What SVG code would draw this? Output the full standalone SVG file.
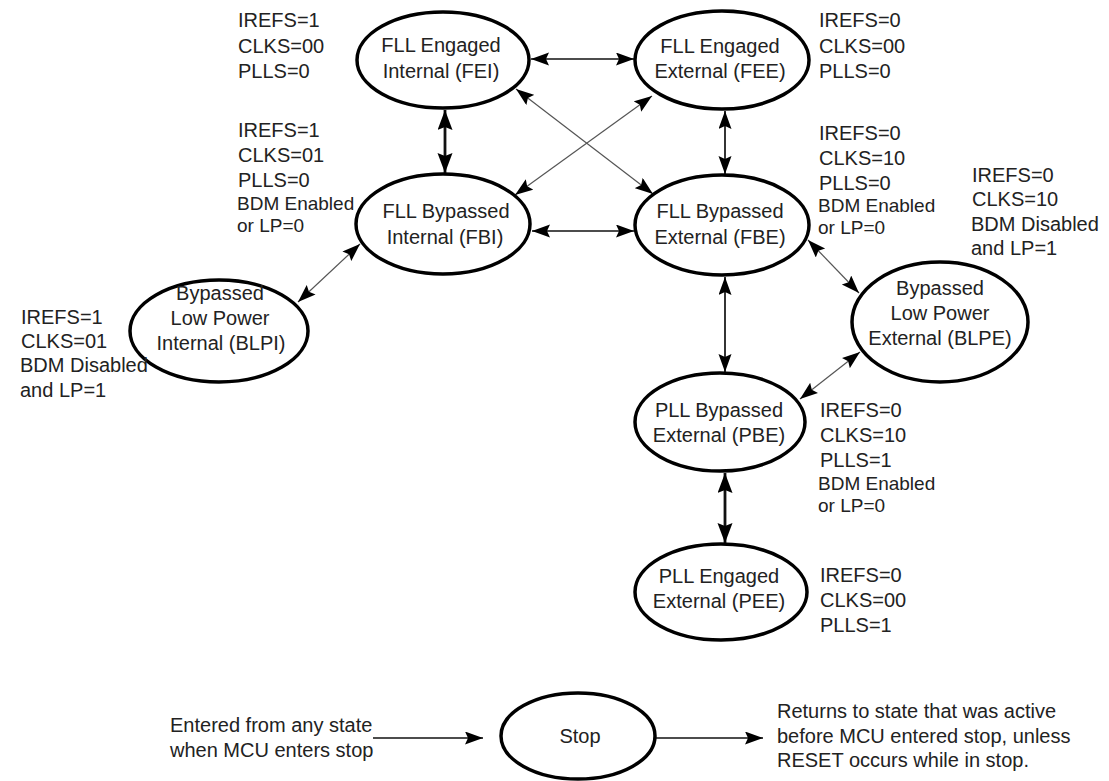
<svg xmlns="http://www.w3.org/2000/svg" width="1109" height="781" viewBox="0 0 1109 781">
  <style>
    text { font-family: "Liberation Sans", Arial, sans-serif; font-size: 20px; fill: #222; }
    .label { text-anchor: middle; }
    .tight { font-size: 19px; }
    .state { fill: #fff; stroke: #000; stroke-width: 3.5; }
    .link { fill: none; stroke: #111; stroke-width: 1.7; marker-start: url(#head); marker-end: url(#head); }
    .bold { stroke-width: 2.8; marker-start: url(#headL); marker-end: url(#headL); }
    .thin { stroke: #555; stroke-width: 1.2; }
    .one { fill: none; stroke: #111; stroke-width: 1.7; marker-end: url(#head); }
  </style>
  <defs>
    <marker id="head" markerUnits="userSpaceOnUse" markerWidth="20" markerHeight="14" refX="18" refY="6.5" orient="auto-start-reverse" viewBox="0 0 20 14">
      <path d="M0,0 L18,6.5 L0,13 L3,6.5 z" fill="#000"/>
    </marker>
    <marker id="headL" markerUnits="userSpaceOnUse" markerWidth="22" markerHeight="16" refX="20" refY="7.5" orient="auto-start-reverse" viewBox="0 0 22 16">
      <path d="M0,0 L20,7.5 L0,15 L3,7.5 z" fill="#000"/>
    </marker>
  </defs>
  <rect width="1109" height="781" fill="#fff"/>

  <!-- transitions between clock modes -->
  <g id="connectors">
    <line class="link" x1="531" y1="59" x2="634" y2="59"/>
    <line class="link bold" x1="445" y1="110" x2="445" y2="173"/>
    <line class="link" x1="725" y1="111" x2="725" y2="174"/>
    <line class="link thin" x1="516" y1="89" x2="653" y2="194"/>
    <line class="link thin" x1="652" y1="96" x2="515" y2="195"/>
    <line class="link" x1="532" y1="231" x2="634" y2="231"/>
    <line class="link thin" x1="298" y1="302" x2="360" y2="244"/>
    <line class="link thin" x1="808" y1="240" x2="859" y2="293"/>
    <line class="link" x1="725" y1="277" x2="725" y2="372"/>
    <line class="link thin" x1="860" y1="352" x2="800" y2="399"/>
    <line class="link bold" x1="725" y1="473" x2="725" y2="543"/>
    <line class="one" x1="373" y1="738" x2="483" y2="738"/>
    <line class="one" x1="656" y1="738" x2="763" y2="738"/>
  </g>

  <g id="fei">
    <ellipse class="state" cx="443" cy="60" rx="86" ry="48"/>
    <text class="label" x="441" y="52">FLL Engaged</text>
    <text class="label" x="441" y="78">Internal (FEI)</text>
    <text x="238" y="27">IREFS=1</text>
    <text x="238" y="53">CLKS=00</text>
    <text x="238" y="78">PLLS=0</text>
  </g>

  <g id="fee">
    <ellipse class="state" cx="722" cy="60" rx="87" ry="49"/>
    <text class="label" x="720" y="53">FLL Engaged</text>
    <text class="label" x="720" y="78">External (FEE)</text>
    <text x="819" y="27">IREFS=0</text>
    <text x="819" y="53">CLKS=00</text>
    <text x="819" y="78">PLLS=0</text>
  </g>

  <g id="fbi">
    <ellipse class="state" cx="443" cy="224" rx="87" ry="50"/>
    <text class="label" x="446" y="218">FLL Bypassed</text>
    <text class="label" x="445" y="244">Internal (FBI)</text>
    <text x="238" y="137">IREFS=1</text>
    <text x="238" y="162">CLKS=01</text>
    <text x="238" y="187">PLLS=0</text>
    <text class="tight" x="237" y="210">BDM Enabled</text>
    <text class="tight" x="237" y="231.5">or LP=0</text>
  </g>

  <g id="fbe">
    <ellipse class="state" cx="722" cy="225" rx="87" ry="50"/>
    <text class="label" x="720" y="218">FLL Bypassed</text>
    <text class="label" x="720" y="244">External (FBE)</text>
    <text x="819" y="140">IREFS=0</text>
    <text x="819" y="165">CLKS=10</text>
    <text x="819" y="190">PLLS=0</text>
    <text class="tight" x="818" y="212">BDM Enabled</text>
    <text class="tight" x="818" y="233.5">or LP=0</text>
  </g>

  <g id="blpi">
    <ellipse class="state" cx="219" cy="331" rx="89" ry="51"/>
    <text class="label" x="220" y="300">Bypassed</text>
    <text class="label" x="220" y="325">Low Power</text>
    <text class="label" x="221" y="350">Internal (BLPI)</text>
    <text x="21" y="324">IREFS=1</text>
    <text x="21" y="348">CLKS=01</text>
    <text x="20" y="372">BDM Disabled</text>
    <text x="20" y="397">and LP=1</text>
  </g>

  <g id="blpe">
    <ellipse class="state" cx="940" cy="322" rx="88" ry="60"/>
    <text class="label" x="940" y="295">Bypassed</text>
    <text class="label" x="940" y="320">Low Power</text>
    <text class="label" x="940" y="345">External (BLPE)</text>
    <text x="972" y="182">IREFS=0</text>
    <text x="972" y="206">CLKS=10</text>
    <text x="971" y="231">BDM Disabled</text>
    <text x="971" y="255">and LP=1</text>
  </g>

  <g id="pbe">
    <ellipse class="state" cx="720" cy="422" rx="85" ry="49"/>
    <text class="label" x="719" y="417">PLL Bypassed</text>
    <text class="label" x="719" y="442">External (PBE)</text>
    <text x="820" y="417">IREFS=0</text>
    <text x="820" y="442">CLKS=10</text>
    <text x="820" y="467">PLLS=1</text>
    <text class="tight" x="818" y="490">BDM Enabled</text>
    <text class="tight" x="818" y="511.5">or LP=0</text>
  </g>

  <g id="pee">
    <ellipse class="state" cx="721" cy="592" rx="86" ry="48"/>
    <text class="label" x="719" y="583">PLL Engaged</text>
    <text class="label" x="719" y="608">External (PEE)</text>
    <text x="820" y="582">IREFS=0</text>
    <text x="820" y="607">CLKS=00</text>
    <text x="820" y="632">PLLS=1</text>
  </g>

  <g id="stop">
    <ellipse class="state" cx="578" cy="736" rx="77" ry="43"/>
    <text class="label" x="580" y="743">Stop</text>
    <text x="170" y="732">Entered from any state</text>
    <text x="170" y="757">when MCU enters stop</text>
    <text x="777" y="718">Returns to state that was active</text>
    <text x="777" y="743">before MCU entered stop, unless</text>
    <text x="777" y="767">RESET occurs while in stop.</text>
  </g>
</svg>
